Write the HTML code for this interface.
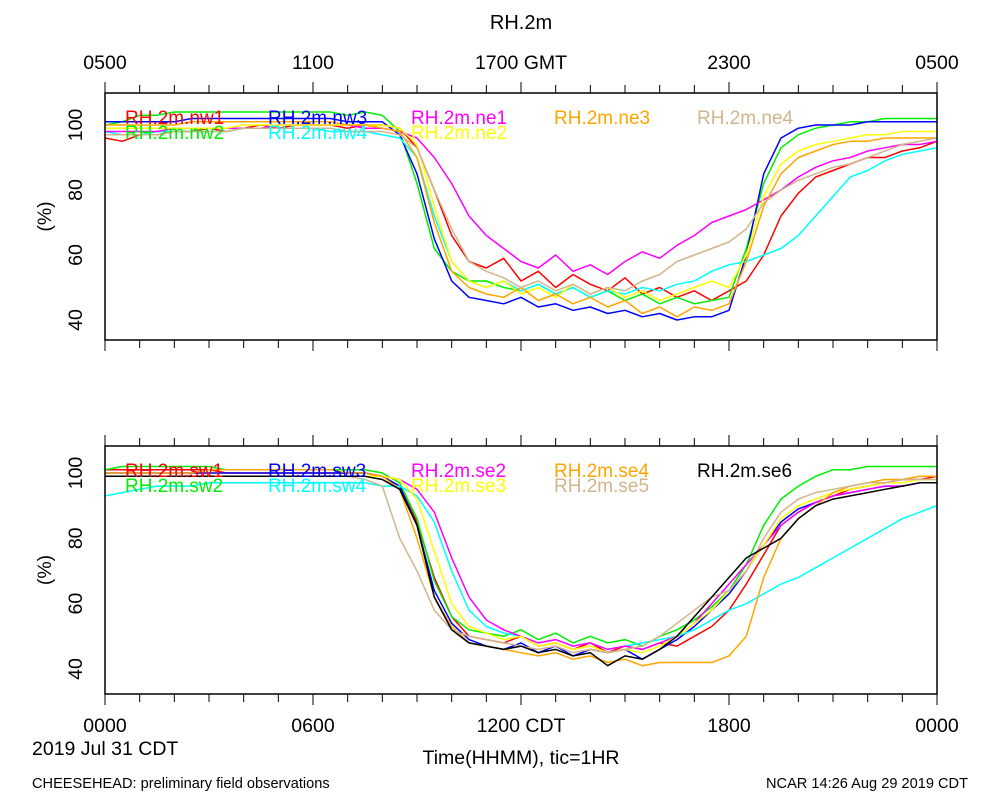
<!DOCTYPE html>
<html><head><meta charset="utf-8">
<style>
body{margin:0;background:#fff;}
svg{display:block;font-family:"Liberation Sans",sans-serif;}
</style></head>
<body>
<svg id="chart" width="1000" height="800" viewBox="0 0 1000 800">
<text x="521" y="29" font-size="20" text-anchor="middle">RH.2m</text>
<text x="32" y="755" font-size="19.5">2019 Jul 31 CDT</text>
<text x="521" y="764" font-size="19.5" text-anchor="middle">Time(HHMM), tic=1HR</text>
<text x="32" y="788" font-size="14.6">CHEESEHEAD: preliminary field observations</text>
<text x="968" y="788" font-size="14.6" text-anchor="end">NCAR 14:26 Aug 29 2019 CDT</text>
<g id="top"></g>
<g id="bot"></g>
</svg>
<script>
// shared axis data
const topTickLabels = ["0500","1100","1700 GMT","2300","0500"];
const botTickLabels = ["0000","0600","1200 CDT","1800","0000"];
const yTicks = [40,60,80,100];

// top panel series (values every 30 min, 0000-2400 CDT)
const nw1 = [96,95,97,97,98,98,99,98,99,100,99,100,100,100,99,100,100, 99,93,80,66,58, 56,59,52,55,50,54,51,49,53,48,50,47,49,46,49, 52,60,72,79,84,86,88,90,90,92,93,95];
const nw2 = [100,101,103,103,104,104,104,104,104,104,104,104,104,104,103,104,103, 98,82,62,55,52, 52,50,49,51,48,50,47,49,46,48,45,47,45,46,47, 62,82,93,97,99,100,101,101,102,102,102,102];
const nw3 = [101,101,101,101,101,102,102,102,102,102,102,102,102,102,101,101,101, 97,85,65,52,47, 46,45,47,44,45,43,44,42,43,41,42,40,41,41,43, 60,85,96,99,100,100,100,101,101,101,101,101];
const nw4 = [98,97,97,98,98,98,98,98,99,99,99,99,99,98,98,98,97, 96,90,72,58,52, 50,52,49,51,48,50,47,49,48,50,49,51,52,55,57, 58,60,62,66,72,78,84,86,89,91,92,93];
const ne1 = [98,98,98,98,99,99,99,99,99,99,100,100,100,100,100,99,99, 98,96,90,82,72, 66,62,58,56,60,55,57,54,58,61,59,63,66,70,72, 74,77,80,84,87,89,90,92,93,94,94,95];
const ne2 = [99,99,99,99,99,99,99,99,100,100,100,100,100,100,100,100,100, 99,94,75,58,52, 50,52,48,50,47,51,48,50,47,49,46,48,50,52,50, 60,78,88,92,94,95,96,97,97,98,98,98];
const ne3 = [100,100,100,100,100,101,101,101,101,101,101,101,101,101,100,100,99, 98,90,70,55,50, 48,47,50,46,48,45,47,44,46,42,44,41,44,43,45, 58,75,85,90,92,94,95,95,96,96,96,96];
const ne4 = [97,97,97,97,98,98,98,98,99,99,99,99,99,99,98,98,98, 97,93,80,68,58, 55,53,50,52,49,51,48,50,49,52,54,58,60,62,64, 68,76,80,83,85,87,88,90,92,94,95,96];

// bottom panel series
const sw1 = [101,101,101,101,101,101,101,100,100,100,100,100,100,100,100,100,99, 96,85,68,56,50, 49,48,50,47,48,46,48,45,47,46,48,47,50,53,58, 66,75,84,88,91,93,95,96,97,98,98,99];
const sw2 = [101,102,102,102,102,102,102,101,101,101,101,101,101,101,101,101,100, 97,86,67,56,52, 51,50,52,49,51,48,50,48,49,47,50,52,55,59,64, 72,84,92,96,99,101,101,102,102,102,102,102];
const sw3 = [100,100,100,100,100,100,100,100,100,100,100,100,100,100,100,100,99, 96,84,64,54,49, 47,46,48,45,47,44,46,45,46,43,46,49,53,58,63, 70,78,85,89,91,93,94,95,96,96,97,97];
const sw4 = [93,94,95,96,96,96,97,97,97,97,97,97,97,97,97,97,96, 96,93,85,70,58, 53,51,50,48,49,47,48,46,47,48,49,50,52,55,58, 60,63,66,68,71,74,77,80,83,86,88,90];
const se2 = [99,99,99,99,99,99,99,99,99,99,99,99,99,99,99,99,99, 98,95,88,74,62, 55,52,50,48,49,47,48,46,47,46,48,50,54,60,66, 72,78,84,88,91,93,94,95,96,96,97,97];
const se3 = [99,99,99,99,99,99,99,99,99,99,99,99,99,99,99,99,99, 98,92,76,60,53, 51,49,50,47,48,46,47,45,46,45,47,50,54,58,64, 70,78,86,90,92,94,95,96,97,97,98,98];
const se4 = [100,100,100,100,100,100,101,101,101,101,101,101,101,101,100,100,99, 95,80,62,53,48, 47,46,45,44,45,43,44,42,43,41,42,42,42,42,44, 50,68,80,86,90,94,96,97,98,98,99,99];
const se5 = [99,99,99,99,99,99,99,99,99,99,99,99,99,99,99,98,96, 80,70,58,52,50, 49,48,47,46,47,45,46,45,46,47,50,54,58,62,64, 70,80,88,92,94,95,96,97,97,98,98,98];
const se6 = [99,99,99,99,99,99,99,99,99,99,99,99,99,99,99,99,98, 95,84,62,52,48, 47,46,47,45,46,44,45,41,44,43,46,50,56,62,68, 74,77,80,86,90,92,93,94,95,96,97,97];

const topSeries = [
 {name:"RH.2m.nw1",color:"#ff0000",data:nw1,col:0,row:0},
 {name:"RH.2m.nw2",color:"#00ee00",data:nw2,col:0,row:1},
 {name:"RH.2m.nw3",color:"#0000ff",data:nw3,col:1,row:0},
 {name:"RH.2m.nw4",color:"#00ffff",data:nw4,col:1,row:1},
 {name:"RH.2m.ne1",color:"#ff00ff",data:ne1,col:2,row:0},
 {name:"RH.2m.ne2",color:"#ffff00",data:ne2,col:2,row:1},
 {name:"RH.2m.ne3",color:"#ffa500",data:ne3,col:3,row:0},
 {name:"RH.2m.ne4",color:"#d2b48c",data:ne4,col:4,row:0}
];
const botSeries = [
 {name:"RH.2m.sw1",color:"#ff0000",data:sw1,col:0,row:0},
 {name:"RH.2m.sw2",color:"#00ee00",data:sw2,col:0,row:1},
 {name:"RH.2m.sw3",color:"#0000ff",data:sw3,col:1,row:0},
 {name:"RH.2m.sw4",color:"#00ffff",data:sw4,col:1,row:1},
 {name:"RH.2m.se2",color:"#ff00ff",data:se2,col:2,row:0},
 {name:"RH.2m.se3",color:"#ffff00",data:se3,col:2,row:1},
 {name:"RH.2m.se4",color:"#ffa500",data:se4,col:3,row:0},
 {name:"RH.2m.se5",color:"#d2b48c",data:se5,col:3,row:1},
 {name:"RH.2m.se6",color:"#000000",data:se6,col:4,row:0}
];

const NS="http://www.w3.org/2000/svg";
const X0=105, X1=937;
function xScale(h){return X0+(X1-X0)*h/24;}
function mk(tag,attrs,parent){const e=document.createElementNS(NS,tag);for(const k in attrs)e.setAttribute(k,attrs[k]);parent.appendChild(e);return e;}

function panel(g,top,bottom,vmin,vmax,series,tickLabels,labelsAbove,prefix){
  const yS=v=>bottom-(v-vmin)*(bottom-top)/(vmax-vmin);
  series.forEach(s=>{
    const n=s.data.length;
    const pts=s.data.map((v,i)=>xScale(i*24/(n-1)).toFixed(1)+","+yS(v).toFixed(1)).join(" ");
    const p=mk("polyline",{points:pts,fill:"none",stroke:s.color,"stroke-width":1.5,"stroke-linejoin":"round"},g);
    
    
  });
  series.forEach(s=>{
    const t=mk("text",{x:125+s.col*143,y:top+31+s.row*15,"font-size":19,fill:s.color},g);
    t.textContent=s.name;
    
    
  });
  const r=mk("rect",{x:X0,y:top,width:X1-X0,height:bottom-top,fill:"none",stroke:"#000","stroke-width":1.5},g);
  
  
  for(let h=0;h<=24;h++){
    const x=xScale(h), L=(h%6===0)?11:8;
    const a=mk("line",{x1:x,y1:top,x2:x,y2:top-L,stroke:"#000","stroke-width":1},g);
    
    
    const b=mk("line",{x1:x,y1:bottom,x2:x,y2:bottom+L,stroke:"#000","stroke-width":1},g);
    
    
  }
  tickLabels.forEach((lab,i)=>{
    const x=xScale(i*6);
    const t=mk("text",{x:x,y:labelsAbove?top-24:bottom+38,"font-size":19.5,"text-anchor":"middle"},g);
    t.textContent=lab;
    
    
  });
  yTicks.forEach(v=>{
    const y=yS(v);
    const t=mk("text",{x:0,y:0,"font-size":19.5,"text-anchor":"middle",transform:`translate(82,${y}) rotate(-90)`},g);
    t.textContent=v;
    
    
  });
  const yt=mk("text",{x:0,y:0,"font-size":19.5,"text-anchor":"middle",transform:`translate(51,${(top+bottom)/2}) rotate(-90)`},g);
  yt.textContent="(%)";
  
  
}
panel(document.getElementById("top"),93,340,40-20*(340-320)/195*3,40+(320-93)/(195/60),topSeries,topTickLabels,true,"top");
panel(document.getElementById("bot"),446,694,40-(694-669)/(196/60),40+(669-446)/(196/60),botSeries,botTickLabels,false,"bottom");
</script>
</body></html>
